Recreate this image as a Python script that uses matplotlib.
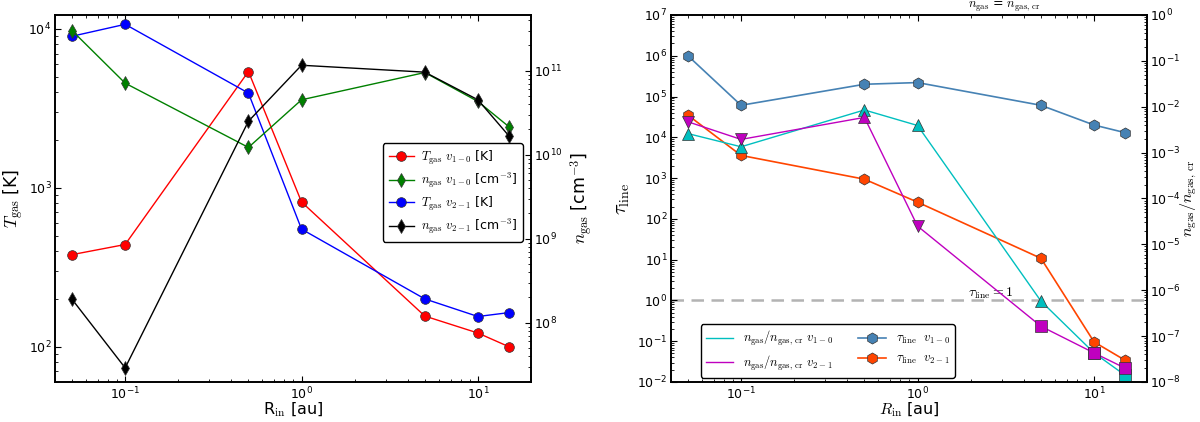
import matplotlib
matplotlib.use("Agg")
import matplotlib.pyplot as plt
from matplotlib.lines import Line2D
from matplotlib.ticker import FixedLocator, LogFormatterSciNotation

plt.rcParams['mathtext.fontset'] = 'cm'
plt.rcParams['font.family'] = ['DejaVu Sans']
plt.rcParams['axes.unicode_minus'] = False
plt.rcParams['xtick.direction'] = 'in'
plt.rcParams['ytick.direction'] = 'in'

# ---- data ----
R_in = [0.05, 0.1, 0.5, 1, 5, 10, 15]
T_v10 = [380, 440, 5400, 815, 156, 122, 100]
T_v21 = [9000, 10700, 3950, 550, 200, 155, 164]
n_v10 = [3.0e11, 7.1e10, 1.22e10, 4.5e10, 9.5e10, 4.3e10, 2.15e10]
n_v21 = [1.9e8, 2.9e7, 2.5e10, 1.16e11, 9.6e10, 4.5e10, 1.67e10]

tau_v10 = [1.0e6, 6.1e4, 2.0e5, 2.2e5, 6.1e4, 2.0e4, 1.3e4]
tau_v21 = [3.5e4, 3.6e3, 940, 257, 10.8, 0.096, 0.034]
ratio_v10 = [2.6e-3, 1.34e-3, 8.5e-3, 3.9e-3, 5.8e-7, 4.3e-8, 1.4e-8]
ratio_v21 = [4.7e-3, 1.94e-3, 5.85e-3, 2.5e-5, 1.64e-7, 4.3e-8, 2.0e-8]

# tick decades of the right panel
tau_ticks = [1e-2, 1e-1, 1e0, 1e1, 1e2, 1e3, 1e4, 1e5, 1e6, 1e7]
ratio_ticks = [1e-8, 1e-7, 1e-6, 1e-5, 1e-4, 1e-3, 1e-2, 1e-1, 1e0]

# per-point marker styles
mk_v10 = ['^', '^', '^', '^', '^', 's', 's']
mk_v21 = ['v', 'v', '^', 'v', 's', 's', 's']

TICK_FS = 9
LAB_FS = 11.5
LEG_FS = 9
MS = 7

fig = plt.figure(figsize=(12, 4.22), dpi=100)
axL = fig.add_axes([0.0458, 0.0948, 0.3967, 0.8697])
axR = fig.add_axes([0.559, 0.0948, 0.397, 0.8697])


def style(ax):
    for s in ax.spines.values():
        s.set_linewidth(1.2)
    ax.tick_params(which='major', length=4, width=0.8, labelsize=TICK_FS, pad=2.5)
    ax.tick_params(which='minor', length=2, width=0.6)


# ---------------- left panel ----------------
axL2 = axL.twinx()
axL.set_xscale('log')
axL.set_yscale('log')
axL2.set_yscale('log')

axL.plot(R_in, T_v10, '-o', color='r', lw=1, ms=MS, mec='0.2', mew=0.5)
axL.plot(R_in, T_v21, '-o', color='b', lw=1, ms=MS, mec='0.2', mew=0.5)
axL2.plot(R_in, n_v10, '-d', color='g', lw=1, ms=MS, mec='0.2', mew=0.5)
axL2.plot(R_in, n_v21, '-d', color='k', lw=1, ms=MS, mec='0.2', mew=0.5)

axL.set_xlim(0.04, 20)
axL.set_ylim(60, 12250)
axL2.set_ylim(1.97e7, 4.6e11)
axL.set_xlabel(r"R$_{\rm in}$ [au]", fontsize=LAB_FS, labelpad=-1)
axL.set_ylabel(r"$T_{\rm gas}$ [K]", fontsize=LAB_FS + 1, labelpad=2)
axL2.set_ylabel(r"$n_{\rm gas}$ [cm$^{-3}$]", fontsize=LAB_FS + 1, labelpad=4)
axL.tick_params(top=True, which='both')
for a in (axL, axL2):
    style(a)

hL = [
    Line2D([], [], color='r', marker='o', ms=MS, mec='0.2', mew=0.5, lw=1),
    Line2D([], [], color='g', marker='d', ms=MS, mec='0.2', mew=0.5, lw=1),
    Line2D([], [], color='b', marker='o', ms=MS, mec='0.2', mew=0.5, lw=1),
    Line2D([], [], color='k', marker='d', ms=MS, mec='0.2', mew=0.5, lw=1),
]
lL = [r"$T_{\rm gas}$ $v_{1-0}$ [K]",
      r"$n_{\rm gas}$ $v_{1-0}$ [cm$^{-3}$]",
      r"$T_{\rm gas}$ $v_{2-1}$ [K]",
      r"$n_{\rm gas}$ $v_{2-1}$ [cm$^{-3}$]"]
legL = axL2.legend(hL, lL, loc='upper left', bbox_to_anchor=(0.689, 0.651),
                   borderaxespad=0, numpoints=1, fontsize=LEG_FS,
                   fancybox=True, framealpha=1, edgecolor='k',
                   handlelength=2.0, labelspacing=0.35, handletextpad=0.6,
                   borderpad=0.45)
legL.get_frame().set_linewidth(1.0)

# ---------------- right panel ----------------
axR2 = axR.twinx()
axR.set_xscale('log')
axR.set_yscale('log')
axR2.set_yscale('log')

axR.axhline(1.0, color='0.7', ls='--', lw=1.8, dashes=(5, 3), zorder=1)
axR.plot(R_in, tau_v10, '-h', color='steelblue', lw=1.2, ms=MS + 1, mec='0.2', mew=0.5)
axR.plot(R_in, tau_v21, '-h', color='orangered', lw=1.2, ms=MS + 1, mec='0.2', mew=0.5)

axR2.plot(R_in, ratio_v10, '-', color='c', lw=1)
axR2.plot(R_in, ratio_v21, '-', color='m', lw=1)
for x, y, m in zip(R_in, ratio_v10, mk_v10):
    axR2.plot([x], [y], marker=m, color='c', ms=MS + 1, mec='0.2', mew=0.5, ls='none')
for x, y, m in zip(R_in, ratio_v21, mk_v21):
    axR2.plot([x], [y], marker=m, color='m', ms=MS + 1, mec='0.2', mew=0.5, ls='none')

axR.set_xlim(0.04, 20)
axR.set_ylim(1e-2, 1e7)
axR2.set_ylim(1e-8, 1)
axR.yaxis.set_major_locator(FixedLocator(tau_ticks))
axR.yaxis.set_major_formatter(LogFormatterSciNotation())
axR2.yaxis.set_major_locator(FixedLocator(ratio_ticks))
axR2.yaxis.set_major_formatter(LogFormatterSciNotation())
axR.set_xlabel(r"$R_{\rm in}$ [au]", fontsize=LAB_FS, labelpad=-1)
axR.set_ylabel(r"$\tau_{\rm line}$", fontsize=LAB_FS + 3, labelpad=4)
axR2.set_ylabel(r"$n_{\rm gas}/n_{\rm gas,\,cr}$", fontsize=LAB_FS, labelpad=-1)
axR.tick_params(top=True, which='both')
for a in (axR, axR2):
    style(a)
axR2.tick_params(which='major', pad=2)

axR.text(1.93, 1.23, r"$\tau_{\rm line} = 1$", fontsize=LEG_FS + 1, va='baseline', ha='left')
axR2.annotate(r"$n_{\rm gas}$ = $n_{\rm gas,\,cr}$", xy=(3.1, 1.0), xytext=(0, 1.0),
              textcoords='offset points', ha='center', va='bottom',
              fontsize=LEG_FS, annotation_clip=False)

hR = [
    Line2D([], [], color='c', lw=1),
    Line2D([], [], color='m', lw=1),
    Line2D([], [], color='steelblue', marker='h', ms=MS + 1, mec='0.2', mew=0.5, lw=1.2),
    Line2D([], [], color='orangered', marker='h', ms=MS + 1, mec='0.2', mew=0.5, lw=1.2),
]
lR = [r"$n_{\rm gas}/n_{\rm gas,\,cr}$ $v_{1-0}$",
      r"$n_{\rm gas}/n_{\rm gas,\,cr}$ $v_{2-1}$",
      r"$\tau_{\rm line}$  $v_{1-0}$",
      r"$\tau_{\rm line}$  $v_{2-1}$"]
legR = axR2.legend(hR, lR, loc='lower left', bbox_to_anchor=(0.063, 0.011),
                   borderaxespad=0, ncol=2, numpoints=1, fontsize=LEG_FS,
                   fancybox=True, framealpha=1, edgecolor='k',
                   handlelength=2.2, columnspacing=2.0, labelspacing=0.45,
                   borderpad=0.4)
legR.get_frame().set_linewidth(1.0)

fig.savefig("out.png", dpi=100)
